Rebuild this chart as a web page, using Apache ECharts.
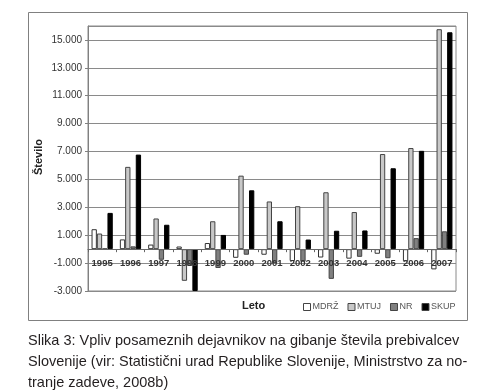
<!DOCTYPE html>
<html>
<head>
<meta charset="utf-8">
<script src="https://cdn.jsdelivr.net/npm/echarts@6/dist/echarts.min.js"></script>
<style>html,body{margin:0;padding:0;background:#fff;}#c{width:497px;height:390px;}</style>
</head>
<body>
<div id="c"></div>
<script>
const categories = ['1995','1996','1997','1998','1999','2000','2001','2002','2003','2004','2005','2006','2007'];
const MDRZ = [1430, 700, 330, 190, 440, -620, -400, -850, -600, -680, -330, -870, -1450];
const MTUJ = [1120, 5900, 2200, -2270, 2000, 5270, 3420, 3080, 4080, 2660, 6820, 7250, 15770];
const NR = [40, 200, -760, -1200, -1350, -400, -1000, -900, -2130, -550, -650, 790, 1280];
const SKUP = [2600, 6780, 1750, -3000, 1020, 4220, 2000, 690, 1320, 1340, 5800, 7050, 15550];
const seriesNames = ['MDRŽ', 'MTUJ', 'NR', 'SKUP'];
const yTicks = { min: -3000, max: 16000, interval: 2000 };
const captionLines = [
  'Slika 3: Vpliv posameznih dejavnikov na gibanje števila prebivalcev',
  'Slovenije (vir: Statistični urad Republike Slovenije, Ministrstvo za no-',
  'tranje zadeve, 2008b)'
];

const fills = ['#ffffff', '#c8c8c8', '#808080', '#000000'];
const borders = ['#333333', '#444444', '#444444', '#000000'];
const dataSets = [MDRZ, MTUJ, NR, SKUP];

const chart = echarts.init(document.getElementById('c'), null, { renderer: 'canvas' });
const fmt = v => {
  const s = Math.abs(v).toString().replace(/\B(?=(\d{3})+(?!\d))/g, '.');
  return (v < 0 ? '-' : '') + s;
};
const gridTop = 26, gridBottom = 99;
chart.setOption({
  animation: false,
  backgroundColor: '#ffffff',
  textStyle: { fontFamily: 'Liberation Sans, Arial, sans-serif' },
  grid: { left: 88, right: 41, top: gridTop, bottom: gridBottom, show: true, borderColor: '#8a8a8a', borderWidth: 1, containLabel: false },
  legend: {
    data: seriesNames,
    left: 303, top: 302.5, padding: 0,
    itemWidth: 7, itemHeight: 7, itemGap: 9,
    icon: 'rect',
    textStyle: { fontSize: 9, color: '#555', padding: [0, 0, 0, -3] },
    itemStyle: { borderWidth: 1, borderColor: '#444' }
  },
  xAxis: {
    type: 'category',
    data: categories,
    z: 5,
    position: 'bottom',
    offset: 0,
    axisLine: { onZero: false, lineStyle: { color: '#666', width: 1 } },
    axisTick: { show: true, length: 3, lineStyle: { color: '#666' } },
    axisLabel: { fontSize: 9.5, fontWeight: 'bold', color: '#333', margin: 9 }
  },
  yAxis: {
    type: 'value',
    min: yTicks.min, max: yTicks.max, interval: yTicks.interval,
    axisLine: { show: true, lineStyle: { color: '#808080' } },
    axisTick: { show: true, length: 3, lineStyle: { color: '#808080' } },
    axisLabel: { fontSize: 10, color: '#333', margin: 6, formatter: fmt, showMaxLabel: false },
    splitLine: { show: true, lineStyle: { color: '#8a8a8a', width: 1 } }
  },
  series: seriesNames.map((n, i) => ({
    name: n,
    type: 'bar',
    data: dataSets[i],
    barGap: '0%',
    barCategoryGap: '25%',
    itemStyle: { color: fills[i], borderColor: borders[i], borderWidth: 1 }
  })),
  graphic: [
    { type: 'rect', shape: { x: 28.5, y: 12.5, width: 439, height: 308 }, style: { fill: 'none', stroke: '#808080', lineWidth: 1 }, silent: true },
    { type: 'text', x: 39, y: 157, rotation: Math.PI / 2, style: { text: 'Število', font: 'bold 11px Liberation Sans, Arial, sans-serif', fill: '#222', align: 'center', verticalAlign: 'middle' } },
    { type: 'text', left: 242, top: 300, style: { text: 'Leto', font: 'bold 11px Liberation Sans, Arial, sans-serif', fill: '#222' } },
    { type: 'text', left: 28, top: 330, style: { text: captionLines.join('\n'), font: '14.5px Liberation Sans, Arial, sans-serif', lineHeight: 21, fill: '#231f20' } }
  ]
});
// move the category axis (line + labels) up to the zero value of the y scale
const zeroY = chart.convertToPixel({ yAxisIndex: 0 }, 0);
const bottomY = 390 - gridBottom;
chart.setOption({ xAxis: { offset: -(bottomY - zeroY) } });
</script>
</body>
</html>
